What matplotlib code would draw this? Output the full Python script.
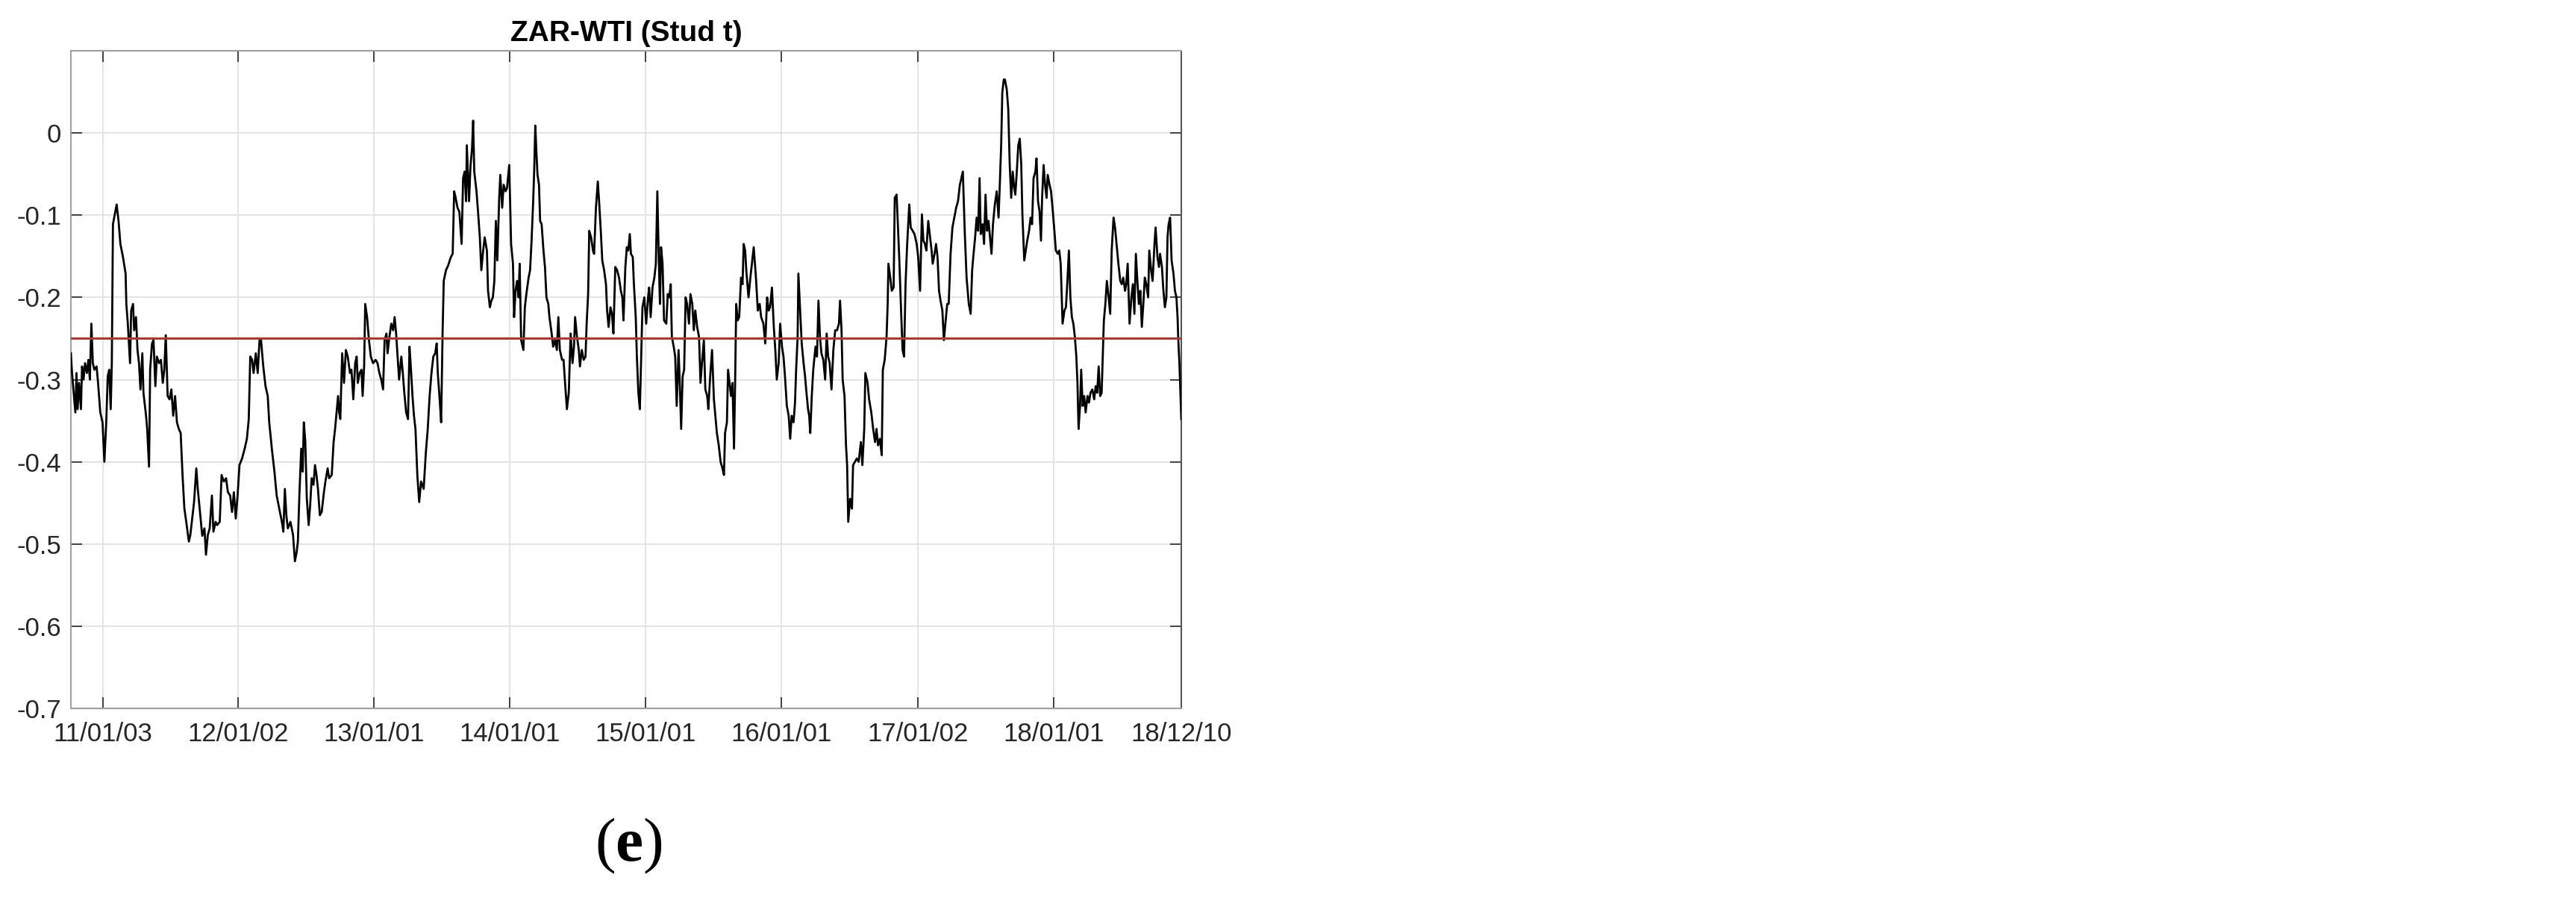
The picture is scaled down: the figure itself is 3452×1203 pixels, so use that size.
import matplotlib
matplotlib.use("Agg")
import matplotlib.pyplot as plt
import matplotlib.dates as mdates
import numpy as np
import pandas as pd

# 系列データ（開始日からの経過日数と相関値）
start_date = "2010-10-09"
end_date = "2018-12-10"
tick_dates = ["2011-01-03", "2012-01-02", "2013-01-01", "2014-01-01", "2015-01-01",
              "2016-01-01", "2017-01-02", "2018-01-01", "2018-12-10"]
y_ticks = [-0.7, -0.6, -0.5, -0.4, -0.3, -0.2, -0.1, 0.0]
y_labels = ["-0.7", "-0.6", "-0.5", "-0.4", "-0.3", "-0.2", "-0.1", "0"]
mean_level = -0.25
title = "ZAR-WTI (Stud t)"
panel = r"($\mathbf{e}$)"

day_offset = [
    0, 3, 9, 12, 15, 18, 22, 27, 30, 34, 38, 43, 47, 51, 55, 59, 63, 69, 73, 79,
    85, 90, 95, 99, 103, 107, 110, 113, 118, 123, 128, 133, 140, 147, 149, 153, 159, 162, 167, 170,
    175, 179, 183, 187, 192, 195, 202, 205, 210, 213, 218, 222, 227, 231, 237, 242, 247, 251, 255, 260,
    265, 270, 275, 280, 285, 290, 295, 300, 305, 310, 317, 321, 327, 331, 337, 341, 347, 353, 359, 363,
    368, 373, 379, 383, 389, 393, 400, 405, 411, 417, 422, 428, 433, 438, 443, 448, 453, 460, 467, 473,
    478, 482, 487, 491, 497, 502, 507, 511, 517, 523, 529, 533, 540, 547, 553, 560, 567, 571, 575, 579,
    583, 590, 597, 602, 607,
    610, 614, 619, 623, 626, 630, 634, 639, 643, 647, 652, 656, 660, 664, 669, 674, 680, 684, 690, 694,
    701, 706, 710, 714, 718, 721, 724, 729, 734, 739, 744, 750, 754, 759, 764, 768, 771, 776, 781, 784,
    788, 791, 796, 801, 806, 812, 819, 824, 829, 834, 839, 843, 848, 851, 856, 861, 866, 870, 874, 878,
    882, 888, 892, 896, 901, 906, 910, 914, 918, 922, 926, 931, 936, 941, 948, 954, 959, 964, 969, 974,
    979, 983, 986, 991, 995, 999, 1002, 1008, 1014, 1021, 1026, 1030, 1034, 1039, 1044, 1050, 1054, 1058, 1062, 1064,
    1070, 1074, 1078, 1081, 1084, 1090, 1094, 1099, 1103, 1108, 1112, 1118, 1121, 1126, 1130, 1134, 1138, 1142, 1146, 1151,
    1154, 1159, 1163, 1168, 1172, 1178, 1183, 1188, 1191, 1195, 1199, 1203, 1206, 1210,
    1216, 1220, 1224, 1230, 1234, 1238, 1242, 1245, 1248, 1251, 1254, 1258, 1261, 1265, 1270, 1274, 1278, 1283, 1286, 1292,
    1296, 1301, 1306, 1310, 1314, 1320, 1324, 1328, 1333, 1338, 1343, 1348, 1352, 1355, 1360, 1365, 1368, 1373, 1378, 1383,
    1386, 1390, 1393, 1398, 1403, 1406, 1411, 1416, 1420, 1424, 1428, 1433, 1438, 1441, 1445, 1450, 1454, 1458, 1463, 1468,
    1473, 1478, 1482, 1485, 1490, 1494, 1498, 1502, 1505, 1510, 1513, 1518, 1521, 1525, 1529, 1533, 1536, 1541, 1546, 1551,
    1554, 1558, 1563, 1568, 1572, 1576, 1580, 1583, 1586, 1590, 1594, 1600, 1604, 1608, 1612, 1615, 1620, 1624, 1628, 1633,
    1636, 1640, 1644, 1648, 1652, 1656, 1661, 1665, 1670, 1674, 1678, 1683, 1688, 1692, 1696, 1701, 1705, 1710, 1713, 1718,
    1723, 1728, 1732, 1736, 1741, 1746, 1751, 1755, 1758, 1763, 1766, 1770, 1774, 1778, 1782, 1785, 1788, 1792, 1796, 1801,
    1805, 1808, 1812,
    1815, 1821, 1826, 1831, 1835, 1841, 1846, 1851, 1855, 1861, 1866, 1871, 1875, 1879, 1884, 1889, 1893, 1897, 1902, 1906,
    1911, 1915, 1919, 1924, 1929, 1933, 1937, 1942, 1946, 1949, 1953, 1955, 1959, 1964, 1969, 1973, 1976, 1981, 1984, 1987,
    1991, 1995, 2001, 2005, 2009, 2013, 2017, 2022, 2027, 2031, 2035, 2039, 2044, 2049, 2054, 2059, 2064, 2067, 2071, 2074,
    2079, 2083, 2086, 2089, 2094, 2099, 2102, 2107, 2112, 2117, 2123, 2127, 2132, 2135, 2141, 2145, 2151, 2156, 2161, 2165,
    2169, 2174, 2179, 2182, 2187, 2192, 2195, 2197, 2202, 2206, 2211, 2214, 2219, 2222, 2226, 2231, 2235, 2239, 2243, 2247,
    2253, 2257, 2262, 2267, 2273, 2277, 2282, 2287, 2291, 2295, 2299, 2304, 2309, 2313, 2316, 2321, 2325, 2329, 2333, 2337,
    2342, 2346, 2351, 2355, 2359, 2364, 2369, 2374, 2379, 2384, 2389, 2393, 2397, 2402, 2407, 2413,
    2418, 2422, 2425, 2430, 2434, 2438, 2442, 2445, 2450, 2454, 2458, 2462, 2466, 2470, 2474, 2478, 2483, 2488, 2493, 2496,
    2500, 2503, 2507, 2510, 2515, 2519, 2523, 2527, 2531, 2535, 2538, 2542, 2546, 2550, 2554, 2557, 2562, 2566, 2570, 2575,
    2579, 2583, 2587, 2592, 2595, 2599, 2603, 2607, 2610, 2614, 2618, 2622, 2625, 2630, 2634, 2638, 2643, 2647, 2652, 2656,
    2660, 2665, 2670, 2674, 2678, 2682, 2686, 2690, 2694, 2698, 2702, 2705, 2708, 2712, 2715, 2719, 2723, 2727, 2732, 2736,
    2740, 2745, 2750, 2754, 2758, 2762, 2766, 2770, 2773, 2776, 2780, 2784, 2788, 2793, 2797, 2802, 2806, 2810, 2815, 2820,
    2824, 2828, 2833, 2836, 2840, 2845, 2850, 2854, 2858, 2862, 2866, 2870, 2874, 2878, 2882, 2886, 2890, 2895, 2898, 2903,
    2907, 2912, 2915, 2920, 2924, 2927, 2932, 2936, 2940, 2944, 2947, 2950, 2954, 2958, 2963, 2967, 2971, 2974, 2976, 2979,
    2984,
]

rho = [
    -0.268, -0.292, -0.324, -0.340, -0.292, -0.336, -0.304, -0.336, -0.284, -0.300, -0.280, -0.292, -0.276, -0.300, -0.232, -0.280, -0.288, -0.284, -0.304, -0.340,
    -0.352, -0.400, -0.352, -0.296, -0.288, -0.336, -0.280, -0.111, -0.099, -0.087, -0.107, -0.135, -0.151, -0.171, -0.208, -0.232, -0.280, -0.216, -0.208, -0.240,
    -0.224, -0.264, -0.280, -0.312, -0.268, -0.316, -0.344, -0.360, -0.406, -0.288, -0.256, -0.252, -0.308, -0.272, -0.280, -0.276, -0.304, -0.288, -0.246, -0.320,
    -0.324, -0.312, -0.344, -0.320, -0.352, -0.360, -0.365, -0.416, -0.457, -0.473, -0.497, -0.489, -0.465, -0.449, -0.408, -0.433, -0.461, -0.490, -0.481, -0.513,
    -0.489, -0.481, -0.441, -0.485, -0.473, -0.477, -0.473, -0.416, -0.424, -0.420, -0.437, -0.441, -0.461, -0.437, -0.469, -0.441, -0.404, -0.396, -0.384, -0.372,
    -0.348, -0.272, -0.276, -0.292, -0.268, -0.292, -0.252, -0.252, -0.284, -0.308, -0.320, -0.352, -0.384, -0.412, -0.441, -0.457, -0.473, -0.485, -0.433, -0.465,
    -0.481, -0.473, -0.489, -0.521, -0.509,
    -0.497, -0.441, -0.384, -0.412, -0.352, -0.376, -0.445, -0.477, -0.453, -0.420, -0.428, -0.404, -0.416, -0.433, -0.465, -0.461, -0.437, -0.424, -0.408, -0.420,
    -0.416, -0.376, -0.360, -0.340, -0.320, -0.340, -0.348, -0.268, -0.304, -0.264, -0.272, -0.292, -0.288, -0.324, -0.280, -0.272, -0.304, -0.292, -0.288, -0.320,
    -0.284, -0.208, -0.224, -0.252, -0.272, -0.280, -0.276, -0.280, -0.292, -0.300, -0.312, -0.252, -0.244, -0.268, -0.248, -0.232, -0.240, -0.224, -0.244, -0.272,
    -0.300, -0.272, -0.292, -0.316, -0.340, -0.348, -0.260, -0.288, -0.320, -0.344, -0.360, -0.416, -0.449, -0.424, -0.433, -0.388, -0.360, -0.320, -0.292, -0.272,
    -0.268, -0.256, -0.292, -0.324, -0.352, -0.240, -0.180, -0.167, -0.161, -0.151, -0.147, -0.071, -0.079, -0.091, -0.096, -0.135, -0.055, -0.047, -0.083, -0.015,
    -0.083, -0.039, -0.019, 0.015, -0.047, -0.071, -0.095, -0.127, -0.167, -0.143, -0.127, -0.143, -0.192, -0.212, -0.204, -0.200, -0.180, -0.107, -0.155, -0.079,
    -0.051, -0.091, -0.063, -0.071, -0.067, -0.039, -0.135, -0.159, -0.224, -0.192, -0.180, -0.200, -0.159, -0.252,
    -0.264, -0.212, -0.196, -0.176, -0.167, -0.131, -0.087, -0.047, 0.009, -0.023, -0.051, -0.063, -0.107, -0.111, -0.143, -0.163, -0.200, -0.208, -0.224, -0.244,
    -0.260, -0.252, -0.264, -0.224, -0.264, -0.276, -0.276, -0.304, -0.336, -0.316, -0.244, -0.280, -0.260, -0.224, -0.248, -0.264, -0.284, -0.264, -0.276, -0.272,
    -0.232, -0.196, -0.119, -0.127, -0.143, -0.147, -0.091, -0.059, -0.087, -0.119, -0.155, -0.167, -0.184, -0.216, -0.236, -0.212, -0.220, -0.244, -0.163, -0.167,
    -0.176, -0.192, -0.200, -0.228, -0.163, -0.139, -0.143, -0.123, -0.147, -0.151, -0.184, -0.224, -0.272, -0.316, -0.336, -0.264, -0.212, -0.200, -0.232, -0.200,
    -0.188, -0.224, -0.188, -0.176, -0.159, -0.071, -0.155, -0.208, -0.139, -0.159, -0.228, -0.232, -0.196, -0.200, -0.184, -0.248, -0.260, -0.272, -0.332, -0.264,
    -0.300, -0.360, -0.296, -0.288, -0.200, -0.208, -0.232, -0.196, -0.208, -0.240, -0.216, -0.236, -0.248, -0.304, -0.280, -0.252, -0.312, -0.320, -0.336, -0.296,
    -0.264, -0.324, -0.344, -0.365, -0.380, -0.400, -0.408, -0.416, -0.365, -0.352, -0.288, -0.304, -0.320, -0.304, -0.384, -0.304, -0.208, -0.228, -0.224, -0.176,
    -0.184, -0.135, -0.143,
    -0.167, -0.200, -0.176, -0.155, -0.139, -0.176, -0.216, -0.208, -0.224, -0.232, -0.256, -0.200, -0.216, -0.212, -0.188, -0.236, -0.264, -0.300, -0.280, -0.232,
    -0.260, -0.272, -0.296, -0.332, -0.344, -0.372, -0.344, -0.352, -0.328, -0.288, -0.248, -0.171, -0.208, -0.256, -0.280, -0.296, -0.312, -0.336, -0.344, -0.365,
    -0.320, -0.288, -0.260, -0.272, -0.204, -0.248, -0.268, -0.276, -0.300, -0.244, -0.272, -0.280, -0.312, -0.264, -0.240, -0.240, -0.232, -0.204, -0.240, -0.300,
    -0.320, -0.380, -0.404, -0.473, -0.445, -0.457, -0.404, -0.400, -0.396, -0.400, -0.376, -0.404, -0.360, -0.292, -0.304, -0.324, -0.340, -0.360, -0.376, -0.360,
    -0.380, -0.372, -0.392, -0.288, -0.276, -0.248, -0.208, -0.159, -0.176, -0.192, -0.188, -0.079, -0.075, -0.107, -0.151, -0.216, -0.264, -0.272, -0.184, -0.139,
    -0.087, -0.115, -0.119, -0.123, -0.135, -0.151, -0.192, -0.099, -0.131, -0.135, -0.143, -0.107, -0.127, -0.143, -0.159, -0.147, -0.135, -0.151, -0.192, -0.204,
    -0.216, -0.252, -0.228, -0.208, -0.208, -0.147, -0.115, -0.103, -0.091, -0.083, -0.063, -0.055, -0.047, -0.119, -0.176, -0.208,
    -0.220, -0.167, -0.151, -0.127, -0.103, -0.119, -0.055, -0.123, -0.111, -0.135, -0.075, -0.119, -0.107, -0.127, -0.147, -0.111, -0.087, -0.071, -0.103, -0.067,
    -0.015, 0.049, 0.065, 0.065, 0.053, 0.029, -0.039, -0.079, -0.047, -0.067, -0.075, -0.047, -0.015, -0.007, -0.039, -0.099, -0.155, -0.143, -0.131, -0.119,
    -0.103, -0.111, -0.055, -0.047, -0.031, -0.083, -0.095, -0.131, -0.079, -0.039, -0.063, -0.079, -0.051, -0.063, -0.071, -0.091, -0.119, -0.143, -0.147, -0.143,
    -0.159, -0.232, -0.216, -0.212, -0.180, -0.143, -0.200, -0.224, -0.232, -0.248, -0.272, -0.304, -0.360, -0.332, -0.288, -0.332, -0.320, -0.340, -0.320, -0.328,
    -0.316, -0.312, -0.324, -0.308, -0.316, -0.284, -0.320, -0.316, -0.272, -0.228, -0.208, -0.180, -0.196, -0.220, -0.143, -0.103, -0.115, -0.135, -0.159, -0.180,
    -0.184, -0.176, -0.192, -0.184, -0.159, -0.232, -0.200, -0.184, -0.220, -0.147, -0.180, -0.208, -0.192, -0.236, -0.208, -0.176, -0.184, -0.200, -0.143, -0.167,
    -0.180, -0.135, -0.115, -0.151, -0.163, -0.147, -0.163, -0.192, -0.212, -0.200, -0.127, -0.111, -0.103, -0.155, -0.171, -0.192, -0.200, -0.224, -0.252, -0.280,
    -0.348,
]

plt.rcParams["font.family"] = ["Liberation Sans", "DejaVu Sans"]
plt.rcParams["mathtext.fontset"] = "custom"
plt.rcParams["mathtext.rm"] = "Liberation Serif"
plt.rcParams["mathtext.bf"] = "Liberation Serif:bold"

dates = pd.Timestamp(start_date) + pd.to_timedelta(day_offset, unit="D")

fig = plt.figure(figsize=(34.52, 12.03), dpi=100)
ax = fig.add_axes([0.02752, 0.2111, 0.43105, 0.7324])

ax.plot(dates, rho, color="black", lw=2.0, zorder=3)
ax.axhline(mean_level, color="#b0392b", lw=2.2, zorder=4)

ax.set_xlim(pd.Timestamp(start_date), pd.Timestamp(end_date))
ax.set_ylim(-0.7, 0.1)
ax.set_xticks(pd.to_datetime(tick_dates))
ax.xaxis.set_major_formatter(mdates.DateFormatter("%y/%m/%d"))
ax.set_yticks(y_ticks)
ax.set_yticklabels(y_labels)

ax.grid(True, color="#e2e2e2", lw=1.3, zorder=0)
ax.set_axisbelow(True)
ax.tick_params(axis="both", direction="in", length=11, width=1.2, top=True, right=True,
               labelsize=25, colors="#262626", labelcolor="#262626")
ax.tick_params(axis="x", pad=13)
ax.tick_params(axis="y", pad=9)
for side in ["left", "top", "bottom"]:
    ax.spines[side].set_color("#a0a0a0")
    ax.spines[side].set_linewidth(1.5)
ax.spines["right"].set_color("#555555")
ax.spines["right"].set_linewidth(1.5)

ax.set_title(title, fontsize=28, fontweight="bold", pad=9)

fig.text(842 / 3452, 1 - 1133 / 1203, panel, fontsize=60, family="Liberation Serif",
         ha="center", va="center")

fig.savefig("out.png", dpi=100, facecolor="white")
